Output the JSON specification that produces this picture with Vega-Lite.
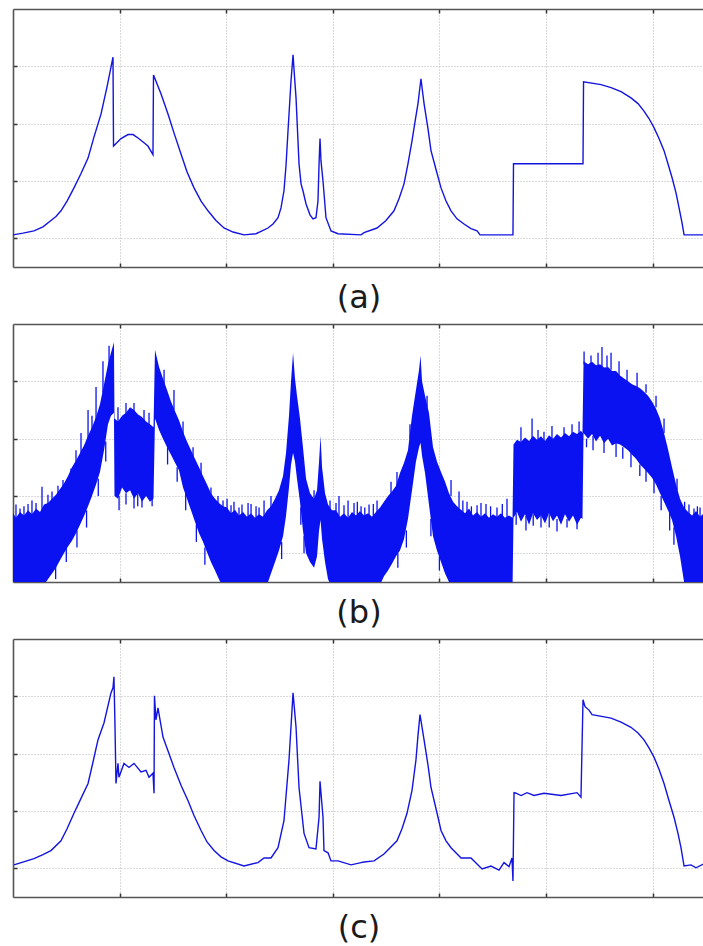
{
  "$schema": "https://vega.github.io/schema/vega-lite/v6.json",
  "padding": {"left": 12, "top": 8, "right": 0, "bottom": 2},
  "background": "white",
  "spacing": 9,
  "config": {
    "view": {"stroke": null},
    "axis": {
      "labels": false,
      "tickSize": -4,
      "tickColor": "#333333",
      "tickWidth": 1.5,
      "domain": true,
      "domainColor": "#555555",
      "domainWidth": 1.6,
      "gridColor": "#b5b5b5",
      "gridDash": [1, 2],
      "gridWidth": 1,
      "titleFont": "DejaVu Sans",
      "titleFontSize": 32,
      "titleFontWeight": "normal",
      "titleColor": "#1a1a1a",
      "titlePadding": 15
    }
  },
  "datasets": {
    "a": [
      {"x": 0, "y": 0.06}, {"x": 0.094, "y": 0.09}, {"x": 0.197, "y": 0.13}, {"x": 0.281, "y": 0.2},
      {"x": 0.356, "y": 0.31}, {"x": 0.403, "y": 0.38}, {"x": 0.45, "y": 0.48}, {"x": 0.507, "y": 0.65},
      {"x": 0.572, "y": 0.88}, {"x": 0.638, "y": 1.13}, {"x": 0.704, "y": 1.4}, {"x": 0.76, "y": 1.77},
      {"x": 0.826, "y": 2.17}, {"x": 0.882, "y": 2.64}, {"x": 0.938, "y": 3.16},
      {"x": 0.943, "y": 1.61}, {"x": 1.013, "y": 1.74}, {"x": 1.079, "y": 1.81}, {"x": 1.126, "y": 1.81},
      {"x": 1.173, "y": 1.75}, {"x": 1.22, "y": 1.68}, {"x": 1.266, "y": 1.61}, {"x": 1.313, "y": 1.46}, {"x": 1.318, "y": 2.85},
      {"x": 1.388, "y": 2.52}, {"x": 1.454, "y": 2.17}, {"x": 1.51, "y": 1.84}, {"x": 1.576, "y": 1.47},
      {"x": 1.632, "y": 1.16}, {"x": 1.698, "y": 0.88}, {"x": 1.764, "y": 0.65}, {"x": 1.829, "y": 0.48},
      {"x": 1.904, "y": 0.31}, {"x": 1.979, "y": 0.18}, {"x": 2.064, "y": 0.11}, {"x": 2.167, "y": 0.06}, {"x": 2.28, "y": 0.08},
      {"x": 2.392, "y": 0.18}, {"x": 2.439, "y": 0.25}, {"x": 2.486, "y": 0.36}, {"x": 2.514, "y": 0.53},
      {"x": 2.542, "y": 0.83}, {"x": 2.561, "y": 1.27}, {"x": 2.58, "y": 1.88},
      {"x": 2.608, "y": 2.75}, {"x": 2.627, "y": 3.2}, {"x": 2.64, "y": 2.84}, {"x": 2.655, "y": 2.45}, {"x": 2.683, "y": 1.3},
      {"x": 2.702, "y": 0.95}, {"x": 2.72, "y": 0.83}, {"x": 2.749, "y": 0.6}, {"x": 2.786, "y": 0.41}, {"x": 2.814, "y": 0.34},
      {"x": 2.842, "y": 0.36}, {"x": 2.861, "y": 0.65}, {"x": 2.871, "y": 1.3}, {"x": 2.88, "y": 1.74},
      {"x": 2.889, "y": 1.35}, {"x": 2.908, "y": 1.0}, {"x": 2.936, "y": 0.36}, {"x": 2.983, "y": 0.13},
      {"x": 3.049, "y": 0.08}, {"x": 3.265, "y": 0.06}, {"x": 3.293, "y": 0.1}, {"x": 3.415, "y": 0.18},
      {"x": 3.499, "y": 0.31}, {"x": 3.574, "y": 0.48}, {"x": 3.621, "y": 0.69}, {"x": 3.668, "y": 0.95},
      {"x": 3.705, "y": 1.3}, {"x": 3.743, "y": 1.7}, {"x": 3.771, "y": 2.03}, {"x": 3.799, "y": 2.35},
      {"x": 3.813, "y": 2.57}, {"x": 3.827, "y": 2.78}, {"x": 3.841, "y": 2.57}, {"x": 3.856, "y": 2.35},
      {"x": 3.893, "y": 1.91}, {"x": 3.921, "y": 1.53}, {"x": 3.977, "y": 1.14}, {"x": 4.015, "y": 0.88},
      {"x": 4.062, "y": 0.65}, {"x": 4.109, "y": 0.48}, {"x": 4.165, "y": 0.34}, {"x": 4.231, "y": 0.25},
      {"x": 4.296, "y": 0.17}, {"x": 4.353, "y": 0.13}, {"x": 4.381, "y": 0.06},
      {"x": 4.69, "y": 0.06}, {"x": 4.695, "y": 1.3}, {"x": 5.347, "y": 1.3}, {"x": 5.352, "y": 2.73},
      {"x": 5.516, "y": 2.68}, {"x": 5.61, "y": 2.63}, {"x": 5.704, "y": 2.56}, {"x": 5.797, "y": 2.45},
      {"x": 5.863, "y": 2.35}, {"x": 5.919, "y": 2.22}, {"x": 5.966, "y": 2.09},
      {"x": 6.013, "y": 1.93}, {"x": 6.06, "y": 1.74}, {"x": 6.107, "y": 1.53}, {"x": 6.144, "y": 1.3},
      {"x": 6.182, "y": 1.06}, {"x": 6.22, "y": 0.79}, {"x": 6.248, "y": 0.53}, {"x": 6.276, "y": 0.27},
      {"x": 6.295, "y": 0.06}, {"x": 6.482, "y": 0.06}
    ],
    "c": [
      {"x": 0.009, "y": 0.06}, {"x": 0.197, "y": 0.17}, {"x": 0.281, "y": 0.24}, {"x": 0.356, "y": 0.31}, {"x": 0.45, "y": 0.48},
      {"x": 0.507, "y": 0.69}, {"x": 0.572, "y": 0.96}, {"x": 0.638, "y": 1.22}, {"x": 0.704, "y": 1.48}, {"x": 0.75, "y": 1.85},
      {"x": 0.797, "y": 2.24}, {"x": 0.854, "y": 2.54},
      {"x": 0.919, "y": 3.06}, {"x": 0.938, "y": 3.15}, {"x": 0.947, "y": 3.34}, {"x": 0.957, "y": 2.46},
      {"x": 0.966, "y": 1.48}, {"x": 0.985, "y": 1.83}, {"x": 0.994, "y": 1.59}, {"x": 1.041, "y": 1.83},
      {"x": 1.088, "y": 1.76}, {"x": 1.135, "y": 1.83}, {"x": 1.201, "y": 1.68}, {"x": 1.248, "y": 1.71},
      {"x": 1.276, "y": 1.59}, {"x": 1.313, "y": 1.66}, {"x": 1.323, "y": 1.31}, {"x": 1.327, "y": 3.01},
      {"x": 1.341, "y": 2.59}, {"x": 1.36, "y": 2.8}, {"x": 1.407, "y": 2.29}, {"x": 1.51, "y": 1.76},
      {"x": 1.576, "y": 1.45}, {"x": 1.642, "y": 1.18}, {"x": 1.698, "y": 0.92}, {"x": 1.764, "y": 0.66},
      {"x": 1.82, "y": 0.46}, {"x": 1.886, "y": 0.31}, {"x": 1.951, "y": 0.2}, {"x": 2.017, "y": 0.13},
      {"x": 2.167, "y": 0.04}, {"x": 2.298, "y": 0.1}, {"x": 2.355, "y": 0.18}, {"x": 2.42, "y": 0.18},
      {"x": 2.486, "y": 0.36}, {"x": 2.542, "y": 0.83}, {"x": 2.589, "y": 1.89}, {"x": 2.627, "y": 3.06},
      {"x": 2.655, "y": 2.46}, {"x": 2.683, "y": 1.41}, {"x": 2.73, "y": 0.61}, {"x": 2.777, "y": 0.36},
      {"x": 2.842, "y": 0.34}, {"x": 2.871, "y": 0.89}, {"x": 2.88, "y": 1.52}, {"x": 2.908, "y": 0.89},
      {"x": 2.917, "y": 0.31}, {"x": 2.955, "y": 0.27}, {"x": 2.983, "y": 0.13}, {"x": 3.049, "y": 0.13},
      {"x": 3.171, "y": 0.06}, {"x": 3.265, "y": 0.1}, {"x": 3.293, "y": 0.11}, {"x": 3.387, "y": 0.13},
      {"x": 3.48, "y": 0.25}, {"x": 3.602, "y": 0.48}, {"x": 3.649, "y": 0.69}, {"x": 3.696, "y": 0.96},
      {"x": 3.743, "y": 1.36}, {"x": 3.78, "y": 1.89}, {"x": 3.799, "y": 2.32},
      {"x": 3.818, "y": 2.68}, {"x": 3.856, "y": 2.24}, {"x": 3.893, "y": 1.8}, {"x": 3.921, "y": 1.41},
      {"x": 3.977, "y": 0.97}, {"x": 4.015, "y": 0.66}, {"x": 4.062, "y": 0.48},
      {"x": 4.109, "y": 0.36}, {"x": 4.203, "y": 0.18}, {"x": 4.296, "y": 0.18}, {"x": 4.4, "y": -0.01},
      {"x": 4.484, "y": 0.04}, {"x": 4.559, "y": -0.03}, {"x": 4.606, "y": 0.1}, {"x": 4.653, "y": 0.03},
      {"x": 4.681, "y": 0.18}, {"x": 4.69, "y": -0.22}, {"x": 4.7, "y": 1.32}, {"x": 4.719, "y": 1.31},
      {"x": 4.766, "y": 1.27}, {"x": 4.822, "y": 1.32}, {"x": 4.887, "y": 1.27}, {"x": 4.981, "y": 1.31},
      {"x": 5.141, "y": 1.27}, {"x": 5.291, "y": 1.32}, {"x": 5.328, "y": 1.24}, {"x": 5.347, "y": 2.94},
      {"x": 5.366, "y": 2.82}, {"x": 5.403, "y": 2.76}, {"x": 5.432, "y": 2.68}, {"x": 5.61, "y": 2.62},
      {"x": 5.704, "y": 2.55}, {"x": 5.797, "y": 2.46}, {"x": 5.863, "y": 2.36}, {"x": 5.919, "y": 2.24},
      {"x": 5.966, "y": 2.1}, {"x": 6.013, "y": 1.94}, {"x": 6.06, "y": 1.73}, {"x": 6.107, "y": 1.48},
      {"x": 6.154, "y": 1.18}, {"x": 6.201, "y": 0.89}, {"x": 6.238, "y": 0.61}, {"x": 6.266, "y": 0.36},
      {"x": 6.295, "y": 0.04}, {"x": 6.36, "y": 0.06},
      {"x": 6.407, "y": 0.01}, {"x": 6.482, "y": 0.08}
    ],
    "b": [
      {"x": 0, "hi": 0.7, "lo": -0.6}, {"x": 0.028, "hi": 0.62, "lo": -0.6}, {"x": 0.066, "hi": 0.72, "lo": -0.6},
      {"x": 0.103, "hi": 0.66, "lo": -0.6}, {"x": 0.141, "hi": 0.75, "lo": -0.6}, {"x": 0.178, "hi": 0.68, "lo": -0.6},
      {"x": 0.216, "hi": 0.78, "lo": -0.6}, {"x": 0.253, "hi": 0.72, "lo": -0.6}, {"x": 0.291, "hi": 0.85, "lo": -0.55},
      {"x": 0.328, "hi": 0.88, "lo": -0.45}, {"x": 0.366, "hi": 0.95, "lo": -0.35}, {"x": 0.403, "hi": 1.02, "lo": -0.25},
      {"x": 0.441, "hi": 1.12, "lo": -0.12}, {"x": 0.478, "hi": 1.22, "lo": 0.0}, {"x": 0.516, "hi": 1.35, "lo": 0.12},
      {"x": 0.553, "hi": 1.5, "lo": 0.22}, {"x": 0.591, "hi": 1.62, "lo": 0.35}, {"x": 0.629, "hi": 1.75, "lo": 0.5},
      {"x": 0.666, "hi": 1.88, "lo": 0.65}, {"x": 0.704, "hi": 2.05, "lo": 0.82}, {"x": 0.741, "hi": 2.2, "lo": 1.0},
      {"x": 0.779, "hi": 2.38, "lo": 1.2}, {"x": 0.816, "hi": 2.6, "lo": 1.42}, {"x": 0.854, "hi": 2.95, "lo": 1.8},
      {"x": 0.891, "hi": 3.3, "lo": 2.25}, {"x": 0.919, "hi": 3.5, "lo": 2.4}, {"x": 0.947, "hi": 3.68, "lo": 2.45},
      {"x": 0.952, "hi": 2.35, "lo": 1.0}, {"x": 0.985, "hi": 2.3, "lo": 0.95}, {"x": 1.023, "hi": 2.4, "lo": 1.15},
      {"x": 1.06, "hi": 2.45, "lo": 1.05}, {"x": 1.098, "hi": 2.55, "lo": 1.1}, {"x": 1.135, "hi": 2.5, "lo": 0.95},
      {"x": 1.173, "hi": 2.42, "lo": 1.05}, {"x": 1.21, "hi": 2.38, "lo": 0.9}, {"x": 1.248, "hi": 2.3, "lo": 1.0},
      {"x": 1.285, "hi": 2.25, "lo": 0.9}, {"x": 1.318, "hi": 2.2, "lo": 0.95}, {"x": 1.332, "hi": 3.55, "lo": 2.35},
      {"x": 1.37, "hi": 3.25, "lo": 2.15}, {"x": 1.407, "hi": 3.05, "lo": 2.0}, {"x": 1.445, "hi": 2.85, "lo": 1.85},
      {"x": 1.482, "hi": 2.65, "lo": 1.72}, {"x": 1.52, "hi": 2.48, "lo": 1.58}, {"x": 1.557, "hi": 2.32, "lo": 1.45},
      {"x": 1.595, "hi": 2.12, "lo": 1.15}, {"x": 1.632, "hi": 1.95, "lo": 0.95}, {"x": 1.67, "hi": 1.8, "lo": 0.75},
      {"x": 1.707, "hi": 1.65, "lo": 0.55}, {"x": 1.745, "hi": 1.5, "lo": 0.35}, {"x": 1.782, "hi": 1.35, "lo": 0.2},
      {"x": 1.82, "hi": 1.2, "lo": 0.02}, {"x": 1.857, "hi": 1.05, "lo": -0.15}, {"x": 1.895, "hi": 0.95, "lo": -0.3},
      {"x": 1.932, "hi": 0.88, "lo": -0.45}, {"x": 1.97, "hi": 0.82, "lo": -0.6}, {"x": 2.008, "hi": 0.8, "lo": -0.6},
      {"x": 2.045, "hi": 0.7, "lo": -0.6}, {"x": 2.083, "hi": 0.76, "lo": -0.6}, {"x": 2.12, "hi": 0.66, "lo": -0.6},
      {"x": 2.158, "hi": 0.72, "lo": -0.6}, {"x": 2.195, "hi": 0.64, "lo": -0.6}, {"x": 2.233, "hi": 0.7, "lo": -0.6},
      {"x": 2.27, "hi": 0.62, "lo": -0.6}, {"x": 2.308, "hi": 0.68, "lo": -0.6}, {"x": 2.345, "hi": 0.64, "lo": -0.6},
      {"x": 2.383, "hi": 0.75, "lo": -0.55}, {"x": 2.42, "hi": 0.82, "lo": -0.35}, {"x": 2.458, "hi": 0.95, "lo": -0.15},
      {"x": 2.495, "hi": 1.1, "lo": 0.05}, {"x": 2.533, "hi": 1.35, "lo": 0.3}, {"x": 2.561, "hi": 1.75, "lo": 0.65},
      {"x": 2.589, "hi": 2.4, "lo": 1.15}, {"x": 2.608, "hi": 3.0, "lo": 1.55}, {"x": 2.627, "hi": 3.5, "lo": 1.75},
      {"x": 2.645, "hi": 3.05, "lo": 1.6}, {"x": 2.664, "hi": 2.75, "lo": 1.3}, {"x": 2.692, "hi": 2.35, "lo": 0.9},
      {"x": 2.72, "hi": 1.85, "lo": 0.4}, {"x": 2.749, "hi": 1.3, "lo": 0.0}, {"x": 2.786, "hi": 1.05, "lo": -0.15},
      {"x": 2.824, "hi": 0.95, "lo": -0.25}, {"x": 2.852, "hi": 1.1, "lo": -0.05}, {"x": 2.871, "hi": 1.6, "lo": 0.4},
      {"x": 2.885, "hi": 2.05, "lo": 0.58}, {"x": 2.899, "hi": 1.5, "lo": 0.25}, {"x": 2.927, "hi": 1.05, "lo": -0.15},
      {"x": 2.955, "hi": 0.85, "lo": -0.45}, {"x": 2.992, "hi": 0.75, "lo": -0.6}, {"x": 3.03, "hi": 0.75, "lo": -0.6},
      {"x": 3.068, "hi": 0.64, "lo": -0.6}, {"x": 3.105, "hi": 0.7, "lo": -0.6}, {"x": 3.143, "hi": 0.62, "lo": -0.6},
      {"x": 3.18, "hi": 0.72, "lo": -0.6}, {"x": 3.218, "hi": 0.66, "lo": -0.6}, {"x": 3.255, "hi": 0.74, "lo": -0.6},
      {"x": 3.293, "hi": 0.66, "lo": -0.6}, {"x": 3.33, "hi": 0.7, "lo": -0.6}, {"x": 3.368, "hi": 0.64, "lo": -0.6},
      {"x": 3.405, "hi": 0.72, "lo": -0.6}, {"x": 3.443, "hi": 0.8, "lo": -0.55}, {"x": 3.48, "hi": 0.9, "lo": -0.4},
      {"x": 3.518, "hi": 1.0, "lo": -0.3}, {"x": 3.555, "hi": 1.08, "lo": -0.18}, {"x": 3.593, "hi": 1.18, "lo": -0.05},
      {"x": 3.63, "hi": 1.4, "lo": 0.05}, {"x": 3.668, "hi": 1.58, "lo": 0.25}, {"x": 3.705, "hi": 1.8, "lo": 0.6},
      {"x": 3.743, "hi": 2.4, "lo": 1.1}, {"x": 3.78, "hi": 2.85, "lo": 1.6}, {"x": 3.809, "hi": 3.2, "lo": 1.85},
      {"x": 3.823, "hi": 3.45, "lo": 1.93}, {"x": 3.837, "hi": 3.0, "lo": 1.7}, {"x": 3.865, "hi": 2.75, "lo": 1.4},
      {"x": 3.902, "hi": 2.45, "lo": 0.85}, {"x": 3.94, "hi": 1.85, "lo": 0.3}, {"x": 3.977, "hi": 1.6, "lo": 0.05},
      {"x": 4.015, "hi": 1.42, "lo": -0.15}, {"x": 4.053, "hi": 1.25, "lo": -0.35}, {"x": 4.09, "hi": 1.05, "lo": -0.5},
      {"x": 4.128, "hi": 0.9, "lo": -0.6}, {"x": 4.165, "hi": 0.82, "lo": -0.6}, {"x": 4.203, "hi": 0.76, "lo": -0.6},
      {"x": 4.24, "hi": 0.7, "lo": -0.6}, {"x": 4.278, "hi": 0.78, "lo": -0.6}, {"x": 4.315, "hi": 0.66, "lo": -0.6},
      {"x": 4.353, "hi": 0.72, "lo": -0.6}, {"x": 4.39, "hi": 0.64, "lo": -0.6}, {"x": 4.428, "hi": 0.7, "lo": -0.6},
      {"x": 4.465, "hi": 0.62, "lo": -0.6}, {"x": 4.503, "hi": 0.68, "lo": -0.6}, {"x": 4.54, "hi": 0.64, "lo": -0.6},
      {"x": 4.578, "hi": 0.7, "lo": -0.6}, {"x": 4.615, "hi": 0.62, "lo": -0.6}, {"x": 4.653, "hi": 0.66, "lo": -0.6},
      {"x": 4.686, "hi": 0.62, "lo": -0.6}, {"x": 4.695, "hi": 1.9, "lo": 0.62}, {"x": 4.728, "hi": 1.98, "lo": 0.72},
      {"x": 4.765, "hi": 1.94, "lo": 0.55}, {"x": 4.803, "hi": 2.02, "lo": 0.68}, {"x": 4.841, "hi": 1.96, "lo": 0.5},
      {"x": 4.878, "hi": 2.05, "lo": 0.7}, {"x": 4.916, "hi": 1.98, "lo": 0.58}, {"x": 4.953, "hi": 2.04, "lo": 0.66},
      {"x": 4.991, "hi": 1.96, "lo": 0.52}, {"x": 5.028, "hi": 2.06, "lo": 0.7}, {"x": 5.066, "hi": 2.0, "lo": 0.56},
      {"x": 5.103, "hi": 2.08, "lo": 0.66}, {"x": 5.141, "hi": 2.02, "lo": 0.5}, {"x": 5.178, "hi": 2.1, "lo": 0.68},
      {"x": 5.216, "hi": 2.04, "lo": 0.55}, {"x": 5.253, "hi": 2.12, "lo": 0.66}, {"x": 5.291, "hi": 2.08, "lo": 0.5},
      {"x": 5.328, "hi": 2.14, "lo": 0.62}, {"x": 5.342, "hi": 2.1, "lo": 0.6}, {"x": 5.352, "hi": 3.35, "lo": 2.1},
      {"x": 5.394, "hi": 3.3, "lo": 2.0}, {"x": 5.432, "hi": 3.34, "lo": 2.08}, {"x": 5.469, "hi": 3.28, "lo": 1.95},
      {"x": 5.507, "hi": 3.3, "lo": 2.05}, {"x": 5.544, "hi": 3.24, "lo": 1.92}, {"x": 5.582, "hi": 3.25, "lo": 2.0},
      {"x": 5.619, "hi": 3.18, "lo": 1.88}, {"x": 5.657, "hi": 3.18, "lo": 1.92}, {"x": 5.694, "hi": 3.1, "lo": 1.9},
      {"x": 5.732, "hi": 3.05, "lo": 1.85}, {"x": 5.769, "hi": 3.0, "lo": 1.8}, {"x": 5.807, "hi": 2.95, "lo": 1.72},
      {"x": 5.844, "hi": 2.92, "lo": 1.65}, {"x": 5.882, "hi": 2.88, "lo": 1.55}, {"x": 5.919, "hi": 2.82, "lo": 1.48},
      {"x": 5.957, "hi": 2.75, "lo": 1.4}, {"x": 5.994, "hi": 2.65, "lo": 1.32}, {"x": 6.032, "hi": 2.52, "lo": 1.2},
      {"x": 6.069, "hi": 2.35, "lo": 1.05}, {"x": 6.107, "hi": 2.1, "lo": 0.9}, {"x": 6.144, "hi": 1.82, "lo": 0.75},
      {"x": 6.182, "hi": 1.5, "lo": 0.58}, {"x": 6.22, "hi": 1.2, "lo": 0.3}, {"x": 6.257, "hi": 0.95, "lo": -0.05},
      {"x": 6.295, "hi": 0.8, "lo": -0.5}, {"x": 6.332, "hi": 0.72, "lo": -0.6}, {"x": 6.37, "hi": 0.66, "lo": -0.6},
      {"x": 6.407, "hi": 0.74, "lo": -0.6}, {"x": 6.445, "hi": 0.64, "lo": -0.6}, {"x": 6.482, "hi": 0.7, "lo": -0.6}
    ],
    "bs": [
      {"x": 0.028, "y1": 0.55, "y2": 0.85}, {"x": 0.103, "y1": 0.6, "y2": 0.82}, {"x": 0.178, "y1": 0.6, "y2": 0.92},
      {"x": 0.066, "y1": 0.6, "y2": 0.78}, {"x": 0.141, "y1": 0.62, "y2": 0.86}, {"x": 0.216, "y1": 0.65, "y2": 0.88},
      {"x": 0.272, "y1": 0.7, "y2": 1.16}, {"x": 0.328, "y1": 0.8, "y2": 1.02}, {"x": 0.422, "y1": 0.95, "y2": 1.18},
      {"x": 0.366, "y1": 0.85, "y2": 1.08}, {"x": 0.591, "y1": 1.5, "y2": 1.8}, {"x": 0.741, "y1": 2.1, "y2": 2.4},
      {"x": 0.469, "y1": 1.1, "y2": 1.28}, {"x": 0.544, "y1": 1.35, "y2": 1.48}, {"x": 0.638, "y1": 1.65, "y2": 2.1},
      {"x": 0.704, "y1": 1.95, "y2": 2.5}, {"x": 0.779, "y1": 2.25, "y2": 2.9}, {"x": 0.844, "y1": 2.8, "y2": 3.35},
      {"x": 0.901, "y1": 3.3, "y2": 3.62}, {"x": 0.985, "y1": 2.2, "y2": 2.55}, {"x": 1.06, "y1": 2.35, "y2": 2.62},
      {"x": 1.135, "y1": 2.4, "y2": 2.62}, {"x": 1.229, "y1": 2.25, "y2": 2.5}, {"x": 1.276, "y1": 2.2, "y2": 2.45},
      {"x": 0.995, "y1": 1.0, "y2": 0.75}, {"x": 1.135, "y1": 1.0, "y2": 0.78}, {"x": 1.21, "y1": 0.95, "y2": 0.8},
      {"x": 1.305, "y1": 0.95, "y2": 0.82}, {"x": 1.06, "y1": 1.05, "y2": 0.85}, {"x": 1.17, "y1": 1.05, "y2": 0.82},
      {"x": 1.417, "y1": 2.95, "y2": 3.2}, {"x": 1.51, "y1": 2.5, "y2": 2.85},
      {"x": 1.595, "y1": 2.05, "y2": 2.3}, {"x": 1.689, "y1": 1.65, "y2": 1.85}, {"x": 1.764, "y1": 1.35, "y2": 1.58},
      {"x": 1.857, "y1": 1.0, "y2": 1.15}, {"x": 1.923, "y1": 0.8, "y2": 1.0}, {"x": 2.008, "y1": 0.7, "y2": 0.95},
      {"x": 1.97, "y1": 0.7, "y2": 0.92}, {"x": 2.045, "y1": 0.62, "y2": 0.84}, {"x": 2.12, "y1": 0.6, "y2": 0.8},
      {"x": 2.233, "y1": 0.6, "y2": 0.86}, {"x": 2.308, "y1": 0.6, "y2": 0.8},
      {"x": 2.073, "y1": 0.65, "y2": 0.9}, {"x": 2.148, "y1": 0.62, "y2": 0.85}, {"x": 2.205, "y1": 0.6, "y2": 0.88},
      {"x": 2.28, "y1": 0.58, "y2": 0.82}, {"x": 2.355, "y1": 0.6, "y2": 0.92}, {"x": 2.42, "y1": 0.75, "y2": 1.0},
      {"x": 2.824, "y1": 0.9, "y2": 1.1}, {"x": 2.974, "y1": 0.7, "y2": 0.92}, {"x": 3.058, "y1": 0.65, "y2": 1.0},
      {"x": 3.03, "y1": 0.65, "y2": 0.88}, {"x": 3.105, "y1": 0.6, "y2": 0.84}, {"x": 3.23, "y1": 0.6, "y2": 0.9},
      {"x": 3.3, "y1": 0.62, "y2": 0.8}, {"x": 3.38, "y1": 0.6, "y2": 0.86},
      {"x": 3.143, "y1": 0.6, "y2": 0.92}, {"x": 3.199, "y1": 0.65, "y2": 0.88}, {"x": 3.265, "y1": 0.65, "y2": 0.82},
      {"x": 3.34, "y1": 0.65, "y2": 0.85}, {"x": 3.415, "y1": 0.68, "y2": 0.92}, {"x": 3.546, "y1": 1.0, "y2": 1.25},
      {"x": 3.602, "y1": 1.1, "y2": 1.42}, {"x": 3.724, "y1": 2.0, "y2": 2.25}, {"x": 3.884, "y1": 2.55, "y2": 2.75},
      {"x": 4.109, "y1": 1.0, "y2": 1.28}, {"x": 4.184, "y1": 0.78, "y2": 1.08}, {"x": 4.259, "y1": 0.7, "y2": 0.9},
      {"x": 4.22, "y1": 0.65, "y2": 0.92}, {"x": 4.3, "y1": 0.62, "y2": 0.82}, {"x": 4.39, "y1": 0.6, "y2": 0.88},
      {"x": 4.48, "y1": 0.6, "y2": 0.82}, {"x": 4.59, "y1": 0.6, "y2": 0.86},
      {"x": 4.353, "y1": 0.68, "y2": 0.84}, {"x": 4.437, "y1": 0.65, "y2": 0.86}, {"x": 4.54, "y1": 0.6, "y2": 0.8},
      {"x": 4.634, "y1": 0.6, "y2": 0.95}, {"x": 4.765, "y1": 1.9, "y2": 2.2}, {"x": 4.869, "y1": 1.95, "y2": 2.35},
      {"x": 4.925, "y1": 1.95, "y2": 2.15}, {"x": 4.981, "y1": 1.95, "y2": 2.12}, {"x": 5.056, "y1": 2.0, "y2": 2.22},
      {"x": 5.169, "y1": 2.0, "y2": 2.2}, {"x": 5.244, "y1": 2.05, "y2": 2.25}, {"x": 5.31, "y1": 2.05, "y2": 2.3},
      {"x": 4.812, "y1": 0.65, "y2": 0.4}, {"x": 4.953, "y1": 0.65, "y2": 0.45}, {"x": 5.103, "y1": 0.6, "y2": 0.38},
      {"x": 5.197, "y1": 0.6, "y2": 0.45}, {"x": 5.291, "y1": 0.55, "y2": 0.42},
      {"x": 4.72, "y1": 0.7, "y2": 0.5}, {"x": 4.88, "y1": 0.68, "y2": 0.48}, {"x": 5.03, "y1": 0.68, "y2": 0.45},
      {"x": 5.357, "y1": 3.3, "y2": 3.52},
      {"x": 5.422, "y1": 3.3, "y2": 3.45}, {"x": 5.488, "y1": 3.25, "y2": 3.5}, {"x": 5.525, "y1": 3.25, "y2": 3.6},
      {"x": 5.572, "y1": 3.25, "y2": 3.45}, {"x": 5.61, "y1": 3.2, "y2": 3.5}, {"x": 5.685, "y1": 3.1, "y2": 3.35},
      {"x": 5.76, "y1": 3.0, "y2": 3.2}, {"x": 5.854, "y1": 2.9, "y2": 3.15}, {"x": 5.938, "y1": 2.8, "y2": 2.95},
      {"x": 6.032, "y1": 2.55, "y2": 2.75}, {"x": 6.107, "y1": 2.1, "y2": 2.35}, {"x": 5.441, "y1": 2.05, "y2": 1.8},
      {"x": 5.544, "y1": 2.0, "y2": 1.75}, {"x": 5.657, "y1": 1.95, "y2": 1.68}, {"x": 5.797, "y1": 1.75, "y2": 1.5},
      {"x": 5.938, "y1": 1.5, "y2": 1.25}, {"x": 6.013, "y1": 1.35, "y2": 1.05}, {"x": 6.229, "y1": 1.1, "y2": 1.3},
      {"x": 5.38, "y1": 2.0, "y2": 1.85}, {"x": 5.72, "y1": 1.85, "y2": 1.65}, {"x": 5.88, "y1": 1.55, "y2": 1.35},
      {"x": 6.08, "y1": 1.0, "y2": 0.75}, {"x": 6.16, "y1": 0.7, "y2": 0.4}, {"x": 6.2, "y1": 0.45, "y2": 0.15},
      {"x": 6.341, "y1": 0.65, "y2": 0.85}, {"x": 6.388, "y1": 0.65, "y2": 0.78}, {"x": 6.445, "y1": 0.6, "y2": 0.8},
      {"x": 6.3, "y1": 0.7, "y2": 0.9}, {"x": 6.42, "y1": 0.62, "y2": 0.82},
      {"x": 0.4, "y1": -0.2, "y2": -0.45}, {"x": 0.5, "y1": 0.1, "y2": -0.15}, {"x": 0.6, "y1": 0.4, "y2": 0.1},
      {"x": 0.69, "y1": 0.75, "y2": 0.45}, {"x": 0.8, "y1": 1.3, "y2": 1.0}, {"x": 0.87, "y1": 1.95, "y2": 1.6},
      {"x": 1.45, "y1": 1.85, "y2": 1.55}, {"x": 1.54, "y1": 1.5, "y2": 1.25}, {"x": 1.62, "y1": 1.05, "y2": 0.75},
      {"x": 1.72, "y1": 0.5, "y2": 0.2}, {"x": 1.8, "y1": 0.1, "y2": -0.2},
      {"x": 2.52, "y1": 0.2, "y2": -0.1}, {"x": 2.7, "y1": 0.8, "y2": 0.5}, {"x": 2.73, "y1": 0.3, "y2": 0.0},
      {"x": 3.61, "y1": 0.0, "y2": -0.25}, {"x": 3.69, "y1": 0.4, "y2": 0.1}, {"x": 3.92, "y1": 0.6, "y2": 0.3},
      {"x": 4.0, "y1": -0.05, "y2": -0.3}
    ]
  },
  "vconcat": [
    {
      "width": 691,
      "height": 258,
      "resolve": {"axis": {"x": "independent"}},
      "layer": [
        {
          "data": {"name": "a"},
          "mark": {"type": "line", "color": "#1414e0", "strokeWidth": 1.4, "clip": true},
          "encoding": {
            "x": {"field": "x", "type": "quantitative", "scale": {"domain": [0, 6.482], "nice": false, "zero": false},
                  "axis": {"orient": "bottom", "values": [1, 2, 3, 4, 5, 6], "grid": true, "title": "(a)"}},
            "y": {"field": "y", "type": "quantitative", "scale": {"domain": [-0.5, 4], "nice": false, "zero": false},
                  "axis": {"values": [0, 1, 2, 3], "grid": true, "title": null}}
          }
        },
        {
          "data": {"name": "a"},
          "mark": {"type": "line", "opacity": 0},
          "encoding": {
            "x": {"field": "x", "type": "quantitative", "axis": {"orient": "top", "values": [1, 2, 3, 4, 5, 6], "grid": false, "title": null}},
            "y": {"field": "y", "type": "quantitative"}
          }
        }
      ]
    },
    {
      "width": 691,
      "height": 258,
      "resolve": {"axis": {"x": "independent"}},
      "layer": [
        {
          "data": {"name": "b"},
          "mark": {"type": "area", "color": "#0a12f2", "opacity": 1, "clip": true},
          "encoding": {
            "x": {"field": "x", "type": "quantitative", "scale": {"domain": [0, 6.482], "nice": false, "zero": false},
                  "axis": {"orient": "bottom", "values": [1, 2, 3, 4, 5, 6], "grid": true, "title": "(b)"}},
            "y": {"field": "hi", "type": "quantitative", "scale": {"domain": [-0.5, 4], "nice": false, "zero": false},
                  "axis": {"values": [0, 1, 2, 3], "grid": true, "title": null}},
            "y2": {"field": "lo"}
          }
        },
        {
          "data": {"name": "bs"},
          "mark": {"type": "rule", "color": "#0a12f2", "strokeWidth": 1.3, "clip": true},
          "encoding": {
            "x": {"field": "x", "type": "quantitative", "axis": {"orient": "top", "values": [1, 2, 3, 4, 5, 6], "grid": false, "title": null}},
            "y": {"field": "y1", "type": "quantitative"},
            "y2": {"field": "y2"}
          }
        }
      ]
    },
    {
      "width": 691,
      "height": 258,
      "resolve": {"axis": {"x": "independent"}},
      "layer": [
        {
          "data": {"name": "c"},
          "mark": {"type": "line", "color": "#1414e0", "strokeWidth": 1.4, "clip": true},
          "encoding": {
            "x": {"field": "x", "type": "quantitative", "scale": {"domain": [0, 6.482], "nice": false, "zero": false},
                  "axis": {"orient": "bottom", "values": [1, 2, 3, 4, 5, 6], "grid": true, "title": "(c)"}},
            "y": {"field": "y", "type": "quantitative", "scale": {"domain": [-0.5, 4], "nice": false, "zero": false},
                  "axis": {"values": [0, 1, 2, 3], "grid": true, "title": null}}
          }
        },
        {
          "data": {"name": "c"},
          "mark": {"type": "line", "opacity": 0},
          "encoding": {
            "x": {"field": "x", "type": "quantitative", "axis": {"orient": "top", "values": [1, 2, 3, 4, 5, 6], "grid": false, "title": null}},
            "y": {"field": "y", "type": "quantitative"}
          }
        }
      ]
    }
  ]
}
